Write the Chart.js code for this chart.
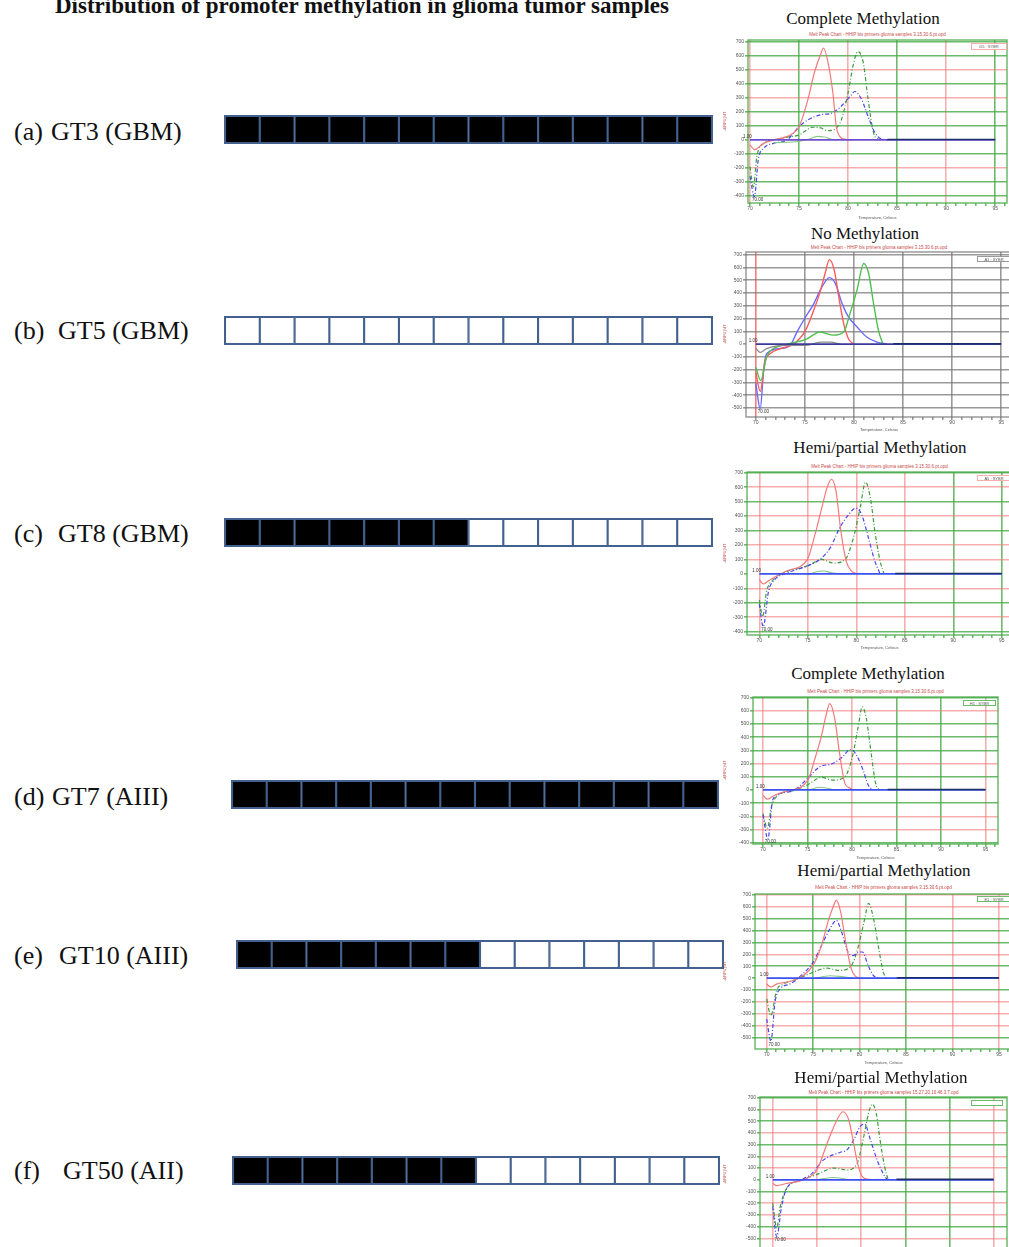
<!DOCTYPE html>
<html>
<head>
<meta charset="utf-8">
<script src="https://cdn.jsdelivr.net/npm/chart.js@4.4.0/dist/chart.umd.min.js"></script>
<style>
  html, body { margin: 0; padding: 0; background: #fff; }
  body { width: 1009px; height: 1247px; overflow: hidden; position: relative;
         font-family: "Liberation Serif", "Times New Roman", serif; color: #111; }
  .abs { position: absolute; white-space: pre; }
  #mainTitle { left: 0; width: 724px; top: -6px; text-align: center; font-weight: bold;
               font-size: 23px; line-height: 23px; }
  .rowLbl { font-size: 26px; line-height: 30px; }
  .status { font-size: 17px; line-height: 20px; text-align: center; width: 300px; }
  .tiny { font-family: "Liberation Sans", Arial, sans-serif; font-size: 4.5px; line-height: 6px;
          color: #c84a4a; text-align: center; width: 200px; }
  .legendBox { font-family: "Liberation Sans", Arial, sans-serif; font-size: 4px; line-height: 5px;
               color: #555; text-align: center; box-sizing: border-box; }
  .cellWrap { position: absolute; outline: 1.6px solid #42618f; }
  canvas { display: block; }
</style>
</head>
<body>
<div id="mainTitle" class="abs">Distribution of promoter methylation in glioma tumor samples</div>
<script>
// ---------- Samples and CpG-site methylation status (1 = methylated, 0 = unmethylated) ----------
const panelLetters = ['(a)', '(b)', '(c)', '(d)', '(e)', '(f)'];
const sampleNames  = ['GT3 (GBM)', 'GT5 (GBM)', 'GT8 (GBM)', 'GT7 (AIII)', 'GT10 (AIII)', 'GT50 (AII)'];
const statusTitles = ['Complete Methylation', 'No Methylation', 'Hemi/partial Methylation',
                      'Complete Methylation', 'Hemi/partial Methylation', 'Hemi/partial Methylation'];
const gt3Sites  = [1, 1, 1, 1, 1, 1, 1, 1, 1, 1, 1, 1, 1, 1];
const gt5Sites  = [0, 0, 0, 0, 0, 0, 0, 0, 0, 0, 0, 0, 0, 0];
const gt8Sites  = [1, 1, 1, 1, 1, 1, 1, 0, 0, 0, 0, 0, 0, 0];
const gt7Sites  = [1, 1, 1, 1, 1, 1, 1, 1, 1, 1, 1, 1, 1, 1];
const gt10Sites = [1, 1, 1, 1, 1, 1, 1, 0, 0, 0, 0, 0, 0, 0];
const gt50Sites = [1, 1, 1, 1, 1, 1, 1, 0, 0, 0, 0, 0, 0, 0];

// ---------- Melt peak curves: temperature (°C) and -d(RFU)/dT ----------
const gt3RedT   = [70, 70.45, 71.4, 72.4, 73.8, 75, 75.9, 76.55, 77.25, 77.5, 77.9, 78.45, 78.8, 79.15, 79.65, 80.5];
const gt3RedY   = [-35, -70, -25, 0, 25, 95, 285, 475, 620, 655, 570, 335, 95, 25, 5, 0];
const gt3GreenT = [70, 70.35, 70.7, 71.4, 72.4, 73.8, 75, 76.4, 77.25, 77.9, 78.8, 79.3, 80, 80.5, 81, 81.55, 82.05, 82.6, 83.1, 83.45];
const gt3GreenY = [-190, -335, -120, -25, 0, 20, 35, 90, 85, 65, 85, 140, 335, 525, 630, 550, 285, 50, 5, 0];
const gt3BlueT  = [70, 70.45, 70.85, 71.4, 72.4, 73.8, 75, 75.85, 77.25, 78.3, 79.3, 80.2, 80.7, 81.4, 82.05, 82.75, 83.45, 84.1];
const gt3BlueY  = [-260, -405, -140, -60, -25, 0, 95, 140, 180, 190, 240, 310, 345, 285, 165, 50, 5, 0];
const gt3LowT   = [72.4, 75, 76.2, 76.9, 77.6, 78.3, 79];
const gt3LowY   = [-20, -10, 10, 25, 20, 5, 0];

const gt5RedT   = [70, 70.45, 70.95, 71.45, 72.5, 73.85, 75.05, 75.9, 76.55, 77.05, 77.5, 78.0, 78.45, 78.95, 79.45, 79.95];
const gt5RedY   = [-220, -370, -130, -75, -35, 0, 105, 265, 408, 550, 660, 575, 370, 160, 40, 0];
const gt5BlueT  = [70, 70.45, 70.8, 71.1, 72.5, 73.5, 74.2, 75.05, 75.9, 76.55, 77.5, 78.1, 78.8, 79.45, 80.3, 81.3, 82.35, 83.35];
const gt5BlueY  = [-310, -505, -200, -75, -35, -10, 95, 210, 315, 420, 520, 475, 315, 210, 135, 55, 15, 0];
const gt5GreenT = [70, 70.5, 71.1, 71.8, 73.15, 75.05, 76.55, 77.9, 78.95, 79.6, 80.3, 81.0, 81.5, 82.0, 82.5, 82.95];
const gt5GreenY = [-180, -285, -100, -35, 0, 35, 95, 70, 95, 240, 420, 630, 550, 315, 105, 0];
const gt5LowT   = [70, 70.45, 71.1, 73.15, 75.05, 76.55, 77.6, 78.6];
const gt5LowY   = [-35, -65, -35, -10, -10, 15, 15, 0];

const gt8RedT   = [70, 70.4, 71.1, 72.8, 74.95, 75.75, 76.45, 77.0, 77.45, 77.9, 78.4, 78.95, 79.5, 80.05];
const gt8RedY   = [-40, -70, -40, 20, 100, 275, 460, 600, 655, 575, 300, 90, 20, 0];
const gt8GreenT = [70, 70.35, 70.75, 71.45, 72.8, 74.95, 76.45, 77.6, 78.85, 79.7, 80.4, 80.95, 81.5, 81.9, 82.45, 82.85];
const gt8GreenY = [-180, -295, -120, -40, 15, 55, 100, 75, 100, 250, 460, 635, 505, 300, 90, 0];
const gt8BlueT  = [70, 70.4, 70.95, 71.45, 72.8, 74.95, 76.25, 77.3, 78.3, 79.2, 79.95, 80.55, 81.25, 81.9, 82.45];
const gt8BlueY  = [-210, -365, -120, -50, 5, 55, 100, 180, 320, 410, 455, 410, 250, 90, 0];
const gt8LowT   = [74.95, 75.9, 76.6, 77.6, 78.65];
const gt8LowY   = [-10, 15, 20, 5, 0];

const gt7RedT   = [70, 70.5, 71.3, 72.6, 75.05, 75.8, 76.55, 77.1, 77.5, 78.05, 78.6, 79.2, 79.75, 80.1];
const gt7RedY   = [-40, -70, -40, -10, 75, 230, 405, 570, 655, 545, 280, 50, 15, 0];
const gt7GreenT = [70, 70.5, 70.95, 71.7, 73.35, 75.05, 76.55, 77.85, 79.2, 80.05, 80.7, 81.15, 81.6, 82.15, 82.65, 83.05];
const gt7GreenY = [-180, -290, -125, -40, -5, 40, 95, 75, 100, 255, 480, 630, 545, 280, 50, 0];
const gt7BlueT  = [70, 70.55, 71.1, 72.05, 73.55, 75.05, 76.35, 77.85, 79.0, 79.75, 80.1, 80.5, 81.25, 81.8, 82.35];
const gt7BlueY  = [-190, -370, -75, -25, 0, 90, 175, 200, 255, 305, 300, 265, 150, 40, 0];
const gt7LowT   = [75, 76.35, 77.1, 78];
const gt7LowY   = [-5, 20, 15, 0];

const gt10RedT   = [70, 70.45, 71.05, 72.85, 75, 75.9, 76.6, 77.15, 77.5, 77.95, 78.5, 79.1, 79.65, 80.2];
const gt10RedY   = [-50, -75, -50, -20, 110, 275, 475, 600, 655, 560, 305, 80, 10, 0];
const gt10GreenT = [70, 70.45, 71.05, 71.8, 73.2, 75, 76.45, 77.85, 79.1, 79.8, 80.55, 80.95, 81.5, 82.05, 82.55, 82.85];
const gt10GreenY = [-175, -315, -105, -50, -10, 50, 85, 65, 105, 250, 500, 630, 500, 250, 50, 0];
const gt10BlueT  = [70, 70.45, 70.9, 71.45, 72.5, 73.75, 75, 75.9, 76.8, 77.5, 78.05, 78.75, 79.3, 80.0, 80.3, 80.9, 81.45, 82];
const gt10BlueY  = [-345, -530, -200, -90, -50, 25, 135, 275, 415, 485, 390, 220, 190, 220, 220, 110, 25, 0];
const gt10LowT   = [75, 76.8, 77.85, 79.3];
const gt10LowY   = [-5, 20, 15, 0];

const gt50RedT   = [70, 70.45, 71.6, 73.5, 75, 76.15, 77.1, 77.95, 78.6, 79.15, 79.6, 80.1, 80.7, 81.25];
const gt50RedY   = [-30, -50, -30, 0, 85, 310, 485, 580, 510, 310, 140, 30, 5, 0];
const gt50GreenT = [70, 70.45, 70.85, 71.6, 73.1, 75, 76.9, 78.4, 79.55, 80.3, 80.85, 81.25, 81.7, 82.2, 82.65, 83.05];
const gt50GreenY = [-200, -410, -230, -70, -5, 45, 100, 85, 140, 370, 570, 645, 570, 310, 115, 0];
const gt50BlueT  = [70, 70.45, 71.0, 71.6, 73.1, 74.45, 75.75, 77.65, 78.4, 79.15, 79.9, 80.4, 81.05, 81.8, 82.55, 82.95];
const gt50BlueY  = [-230, -485, -230, -70, -5, 55, 170, 235, 255, 340, 455, 475, 340, 170, 45, 0];
const gt50LowT   = [75, 76.9, 77.6, 78.5];
const gt50LowY   = [0, 20, 15, 0];

// baseline threshold and plate tail, shared by every melt chart
const thresholdT = [70, 95];
const thresholdY = [0, 0];
const tailT = [84, 95];
const tailY = [3, 3];

// tick values
const tempTicks = [70, 75, 80, 85, 90, 95];
const tempMinorTicks = [70, 71, 72, 73, 74, 75, 76, 77, 78, 79, 80, 81, 82, 83, 84, 85, 86, 87, 88, 89, 90, 91, 92, 93, 94, 95, 96];
const rfuTicks = [-500, -400, -300, -200, -100, 0, 100, 200, 300, 400, 500, 600, 700];
const meltTitles = [
  'Melt Peak Chart - HHIP bis primers glioma samples 3.15.30.6.pt.opd',
  'Melt Peak Chart - HHIP bis primers glioma samples 3.15.30.6.pt.opd',
  'Melt Peak Chart - HHIP bis primers glioma samples 3.15.30.6.pt.opd',
  'Melt Peak Chart - HHIP bis primers glioma samples 3.15.30.6.pt.opd',
  'Melt Peak Chart - HHIP bis primers glioma samples 3.15.30.6.pt.opd',
  'Melt Peak Chart - HHIP bis primers glioma samples 15.27.20.10.46.3.T.opd'
];
const wellLabels = ['D5 : SYBR', 'A1 : SYBR', 'A5 : SYBR', 'H1 : SYBR', 'E1 : SYBR', ''];

// ---------- layout and styling ----------
const CELL_EDGE = '#42618f';
const G = 'rgba(70,170,70,0.8)', R = 'rgba(240,120,120,0.6)', K = 'rgba(120,120,120,0.75)';

const rows = [
  { sites: gt3Sites,  x: 225, y: 116, w: 487, h: 27, cy: 132,  nameX: 51 },
  { sites: gt5Sites,  x: 225, y: 317, w: 487, h: 27, cy: 331,  nameX: 58 },
  { sites: gt8Sites,  x: 225, y: 519, w: 487, h: 27, cy: 534,  nameX: 58 },
  { sites: gt7Sites,  x: 232, y: 781, w: 486, h: 27, cy: 797,  nameX: 52 },
  { sites: gt10Sites, x: 237, y: 941, w: 486, h: 27, cy: 956,  nameX: 59 },
  { sites: gt50Sites, x: 233, y: 1157, w: 486, h: 27, cy: 1171, nameX: 63 }
];

const panels = [
  { titleX: 863, titleY: 18, tinyY: 35, legend: [971, 43, 36, 7, R],
    left: 722, top: 28, width: 287, height: 192, yw: 26, xh: 17, padTop: 12, padRight: 2,
    xMin: 69.8, xMax: 96.2, yMin: -450, yMax: 712, frame: G, solid: false, thr: '#6f4fd0',
    vGrid: { 70: R, 75: G, 80: R, 85: G, 90: R, 95: G },
    hGrid: { 700: G, 600: G, 500: R, 400: G, 300: R, 200: G, 100: G, '-100': G, '-200': R, '-300': G, '-400': G },
    series: [[gt3LowT, gt3LowY, 'low'], [gt3RedT, gt3RedY, 'red'], [gt3BlueT, gt3BlueY, 'blue'], [gt3GreenT, gt3GreenY, 'green']] },
  { titleX: 865, titleY: 233, tinyY: 248, legend: [977, 256, 34, 6, K],
    left: 722, top: 240, width: 290, height: 192, yw: 24, xh: 15, padTop: 12, padRight: 0,
    xMin: 69, xMax: 96.1, yMin: -570, yMax: 720, frame: K, solid: true, thr: '#3a3a9a',
    vGrid: { 70: 'rgba(245,90,90,0.8)', 75: K, 80: K, 85: K, 90: K, 95: K },
    hGrid: { 700: K, 600: K, 500: K, 400: K, 300: K, 200: K, 100: K, '-100': K, '-200': K, '-300': K, '-400': K, '-500': K },
    series: [[gt5LowT, gt5LowY, 'gray'], [gt5GreenT, gt5GreenY, 'green'], [gt5RedT, gt5RedY, 'red'], [gt5BlueT, gt5BlueY, 'blue']] },
  { titleX: 880, titleY: 447, tinyY: 467, legend: [977, 475, 34, 6, R],
    left: 722, top: 460, width: 290, height: 190, yw: 25, xh: 15, padTop: 12, padRight: 0,
    xMin: 68.73, xMax: 96.05, yMin: -423, yMax: 705, frame: G, solid: false, thr: '#3a50f0',
    vGrid: { 70: R, 75: R, 80: R, 85: R, 90: G, 95: G },
    hGrid: { 700: G, 600: R, 500: G, 400: R, 300: G, 200: R, 100: R, '-100': R, '-200': G, '-300': R, '-400': G },
    series: [[gt8LowT, gt8LowY, 'low'], [gt8RedT, gt8RedY, 'red'], [gt8BlueT, gt8BlueY, 'blue'], [gt8GreenT, gt8GreenY, 'green']] },
  { titleX: 868, titleY: 673, tinyY: 692, legend: [963, 700, 33, 6, G],
    left: 722, top: 685, width: 287, height: 175, yw: 31, xh: 16, padTop: 12, padRight: 11,
    xMin: 68.88, xMax: 96.4, yMin: -410, yMax: 705, frame: G, solid: false, thr: '#3a50f0',
    vGrid: { 70: R, 75: G, 80: R, 85: G, 90: G, 95: R },
    hGrid: { 700: G, 600: R, 500: G, 400: G, 300: G, 200: R, 100: G, '-100': G, '-200': R, '-300': R, '-400': G },
    series: [[gt7LowT, gt7LowY, 'low'], [gt7RedT, gt7RedY, 'red'], [gt7BlueT, gt7BlueY, 'blue'], [gt7GreenT, gt7GreenY, 'green']] },
  { titleX: 884, titleY: 870, tinyY: 888, legend: [977, 896, 34, 6, G],
    left: 722, top: 882, width: 290, height: 183, yw: 33, xh: 16, padTop: 12, padRight: 0,
    xMin: 68.74, xMax: 96.4, yMin: -596, yMax: 708, frame: G, solid: false, thr: '#3a50f0',
    vGrid: { 70: R, 75: G, 80: R, 85: G, 90: R, 95: R },
    hGrid: { 700: R, 600: R, 500: G, 400: G, 300: G, 200: R, 100: G, '-100': G, '-200': R, '-300': R, '-400': R, '-500': G },
    series: [[gt10LowT, gt10LowY, 'low'], [gt10RedT, gt10RedY, 'red'], [gt10BlueT, gt10BlueY, 'blue'], [gt10GreenT, gt10GreenY, 'green']] },
  { titleX: 881, titleY: 1077, tinyY: 1093, legend: [971, 1100, 32, 6, G],
    left: 722, top: 1086, width: 287, height: 180, yw: 38, xh: 14, padTop: 11, padRight: 2,
    xMin: 68.56, xMax: 96.5, yMin: -616, yMax: 706, frame: G, solid: false, thr: '#3a50f0',
    vGrid: { 70: R, 75: R, 80: R, 85: G, 90: G, 95: R },
    hGrid: { 700: G, 600: R, 500: G, 400: R, 300: G, 200: R, 100: R, '-100': G, '-200': R, '-300': R, '-400': G, '-500': R },
    series: [[gt50LowT, gt50LowY, 'low'], [gt50RedT, gt50RedY, 'red'], [gt50BlueT, gt50BlueY, 'blue'], [gt50GreenT, gt50GreenY, 'green']] }
];

const DASHDOT = [4, 2, 1, 2];
const lineStyles = {
  dash:  { red: ['#f07a7a', 1.2, []], green: ['#3c9c3c', 1.2, DASHDOT], blue: ['#4646ee', 1.2, DASHDOT],
           low: ['#86c986', 1.1, []], gray: ['#999', 1, []] },
  solid: { red: ['#ff5a5a', 1.4, []], green: ['#4fc04f', 1.4, []], blue: ['#6a6aff', 1.4, []],
           low: ['#86c986', 1.1, []], gray: ['#8a8a8a', 1.3, []] }
};

// ---------- helpers ----------
function addDiv(cls, text, css) {
  const d = document.createElement('div');
  d.className = 'abs ' + cls;
  d.textContent = text;
  Object.assign(d.style, css);
  document.body.appendChild(d);
  return d;
}
function addCanvas(left, top, w, h, parent) {
  const c = document.createElement('canvas');
  c.width = w; c.height = h;
  Object.assign(c.style, { position: 'absolute', left: left + 'px', top: top + 'px', width: w + 'px', height: h + 'px' });
  (parent || document.body).appendChild(c);
  return c;
}

// frame round the plot area plus the "1.00" threshold and the Tm marker labels
const meltDecor = {
  id: 'meltDecor',
  afterDatasetsDraw(chart, args, opts) {
    const { ctx, chartArea: a, scales: { x, y } } = chart;
    ctx.save();
    ctx.strokeStyle = opts.frame;
    ctx.lineWidth = 1.5;
    ctx.strokeRect(a.left, a.top, a.right - a.left, a.bottom - a.top);
    ctx.font = '4.5px "Liberation Sans", Arial, sans-serif';
    ctx.fillStyle = '#333';
    ctx.textBaseline = 'bottom';
    ctx.textAlign = 'left';
    ctx.fillText('1.00', x.getPixelForValue(70) - 7, y.getPixelForValue(0) - 1);
    let lowest = 0;
    chart.data.datasets.forEach(ds => ds.data.forEach(p => { if (p.y < lowest) lowest = p.y; }));
    ctx.textBaseline = 'top';
    ctx.fillText('70.00', x.getPixelForValue(70.2), y.getPixelForValue(lowest) + 1);
    ctx.restore();
  }
};

// ---------- site rows ----------
rows.forEach((r, i) => {
  addDiv('rowLbl', panelLetters[i], { left: '14px', top: (r.cy - 15) + 'px' });
  addDiv('rowLbl', sampleNames[i], { left: r.nameX + 'px', top: (r.cy - 15) + 'px' });
  const wrap = document.createElement('div');
  wrap.className = 'cellWrap';
  Object.assign(wrap.style, { left: r.x + 'px', top: r.y + 'px', width: r.w + 'px', height: r.h + 'px' });
  document.body.appendChild(wrap);
  const c = addCanvas(0, 0, r.w, r.h, wrap);
  new Chart(c, {
    type: 'bar',
    data: {
      labels: r.sites.map((_, k) => 'CpG ' + (k + 1)),
      datasets: [{
        data: r.sites.map(() => 1),
        backgroundColor: r.sites.map(s => s ? '#000' : '#fff'),
        borderColor: CELL_EDGE, borderWidth: 1.4, borderSkipped: false,
        categoryPercentage: 1, barPercentage: 1
      }]
    },
    options: {
      responsive: false, animation: false, events: [],
      layout: { padding: 0 },
      plugins: { legend: { display: false }, tooltip: { enabled: false } },
      scales: { x: { display: false }, y: { display: false, min: 0, max: 1 } }
    }
  });
});

// ---------- melt peak charts ----------
panels.forEach((p, i) => {
  addDiv('status', statusTitles[i], { left: (p.titleX - 150) + 'px', top: (p.titleY - 9) + 'px' });
  addDiv('tiny', meltTitles[i], { left: (p.left + p.yw + (p.width - p.yw - p.padRight) / 2 - 100) + 'px', top: (p.tinyY - 3) + 'px' });
  const lg = addDiv('legendBox', wellLabels[i], {
    left: p.legend[0] + 'px', top: p.legend[1] + 'px', width: p.legend[2] + 'px', height: p.legend[3] + 'px',
    border: '1px solid ' + p.legend[4], background: '#fff'
  });
  lg.style.zIndex = 2;

  const styleSet = p.solid ? lineStyles.solid : lineStyles.dash;
  const datasets = [
    { data: tailT.map((t, k) => ({ x: t, y: tailY[k] })), borderColor: '#1d2f6a', borderWidth: 1.6, pointRadius: 0 },
    { data: thresholdT.map((t, k) => ({ x: t, y: thresholdY[k] })), borderColor: p.thr, borderWidth: 1.8, pointRadius: 0 }
  ];
  p.series.forEach(([ts, ys, kind]) => {
    const [col, w, dash] = styleSet[kind];
    datasets.push({
      data: ts.map((t, k) => ({ x: t, y: ys[k] })),
      borderColor: col, borderWidth: w, borderDash: dash,
      pointRadius: 0, cubicInterpolationMode: 'monotone', fill: false
    });
  });

  const c = addCanvas(p.left, p.top, p.width, p.height);
  new Chart(c, {
    type: 'line',
    data: { datasets },
    plugins: [meltDecor],
    options: {
      responsive: false, animation: false, events: [],
      layout: { padding: { top: p.padTop, right: p.padRight, left: 0, bottom: 0 } },
      plugins: { legend: { display: false }, tooltip: { enabled: false }, meltDecor: { frame: p.frame } },
      scales: {
        x: {
          type: 'linear', min: p.xMin, max: p.xMax,
          afterFit(s) { s.height = p.xh; },
          afterBuildTicks(s) {
            s.ticks = tempMinorTicks.filter(v => v >= p.xMin && v <= p.xMax).map(v => ({ value: v }));
          },
          ticks: {
            autoSkip: false, maxRotation: 0, padding: 0,
            font: { size: 5, family: '"Liberation Sans", Arial, sans-serif' }, color: '#555',
            callback: v => tempTicks.includes(v) ? String(v) : ''
          },
          grid: {
            color: ctx => (ctx.tick && p.vGrid[ctx.tick.value]) || 'rgba(0,0,0,0)',
            tickColor: p.frame, lineWidth: 1.6, tickLength: 3
          },
          border: { display: false },
          title: { display: true, text: 'Temperature, Celsius', padding: 0, color: '#555',
                   font: { size: 4, family: '"Liberation Sans", Arial, sans-serif' } }
        },
        y: {
          min: p.yMin, max: p.yMax,
          afterFit(s) { s.width = p.yw; },
          afterBuildTicks(s) {
            s.ticks = rfuTicks.filter(v => v >= p.yMin && v <= p.yMax).map(v => ({ value: v }));
          },
          ticks: {
            padding: 1, autoSkip: false,
            font: { size: 5, family: '"Liberation Sans", Arial, sans-serif' }, color: '#555',
            callback: v => String(v)
          },
          grid: {
            color: ctx => (ctx.tick && p.hGrid[ctx.tick.value]) || 'rgba(0,0,0,0)',
            tickColor: p.frame, lineWidth: 1.6, tickLength: 3
          },
          border: { display: false },
          title: { display: true, text: '-d(RFU)/dT', padding: 0, color: '#c05050',
                   font: { size: 4, family: '"Liberation Sans", Arial, sans-serif' } }
        }
      }
    }
  });
});
</script>
</body>
</html>
